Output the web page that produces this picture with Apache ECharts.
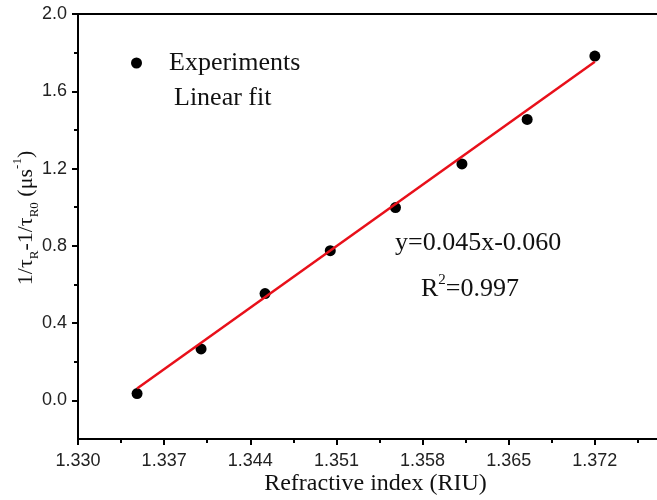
<!DOCTYPE html>
<html>
<head>
<meta charset="utf-8">
<script src="https://cdn.jsdelivr.net/npm/echarts@6/dist/echarts.min.js"></script>
<style>
  html, body { margin: 0; padding: 0; background: #fff; overflow: hidden; }
  #chart { width: 657px; height: 500px; }
</style>
</head>
<body>
<div id="chart"></div>
<script>
// refractive index (RIU) of each measurement
var riu = [1.3348, 1.3400, 1.3452, 1.3505, 1.3558, 1.3612, 1.3665, 1.3720]
// 1/tauR - 1/tauR0 (us^-1)
var rate = [0.035, 0.266, 0.553, 0.775, 0.998, 1.224, 1.454, 1.782]
// end points of the fitted line
var fitX = [1.3348, 1.3720]
var fitY = [0.061, 1.753]
var yMajor = [0, 0.4, 0.8, 1.2, 1.6, 2.0]
var yMinor = [0.2, 0.6, 1.0, 1.4, 1.8]
var eqText = 'y=0.045x-0.060'
var r2Text = '0.997'

var serif = "'Times New Roman', 'Liberation Serif', serif"
var sans = "Arial, 'Liberation Sans', sans-serif"

var chart = echarts.init(document.getElementById('chart'))

var expData = riu.map(function (x, i) { return [x, rate[i]] })
var fitData = fitX.map(function (x, i) { return [x, fitY[i]] })

chart.setOption({
  animation: false,
  // plot runs past the right edge of the picture, like the cropped original
  grid: { left: 78, top: 14, width: 603, bottom: 61, outerBoundsMode: 'none', containLabel: false },
  legend: {
    orient: 'vertical',
    left: 125,
    top: 45,
    itemWidth: 11,
    itemHeight: 11,
    itemGap: 9,
    textStyle: { fontFamily: serif, fontSize: 26, color: '#111', padding: [0, 0, 0, 22] },
    data: [
      { name: 'Experiments', icon: 'circle' },
      {
        name: 'Linear fit',
        itemStyle: { opacity: 0 },
        lineStyle: { opacity: 0 },
        textStyle: { padding: [0, 0, 0, 27] }
      }
    ]
  },
  xAxis: [{
    type: 'value',
    min: 1.330,
    max: 1.379,
    interval: 0.007,
    name: 'Refractive index (RIU)',
    nameLocation: 'middle',
    nameGap: 33,
    nameMoveOverlap: false,
    nameTextStyle: { fontFamily: serif, fontSize: 24, color: '#111', padding: [0, 8, 0, 0] },
    splitLine: { show: false },
    axisLine: { show: true, onZero: false, lineStyle: { color: '#000', width: 2 } },
    axisTick: { show: true, inside: false, length: 6, lineStyle: { color: '#000', width: 2 } },
    minorTick: { show: true, splitNumber: 2, length: 4, lineStyle: { color: '#000', width: 2 } },
    axisLabel: {
      margin: 13,
      fontFamily: sans,
      fontSize: 18,
      color: '#222',
      showMaxLabel: false,
      formatter: function (v) { return v.toFixed(3) }
    }
  }, {
    type: 'value',
    position: 'top',
    min: 1.330,
    max: 1.379,
    axisLine: { show: true, onZero: false, lineStyle: { color: '#000', width: 2 } },
    axisTick: { show: false },
    axisLabel: { show: false },
    splitLine: { show: false }
  }],
  yAxis: [{
    type: 'value',
    min: -0.2,
    max: 2.0,
    splitLine: { show: false },
    axisLine: { show: true, onZero: false, lineStyle: { color: '#000', width: 2 } },
    axisTick: { show: true, length: 6, customValues: yMajor, lineStyle: { color: '#000', width: 2 } },
    axisLabel: {
      margin: 11,
      fontFamily: sans,
      fontSize: 18,
      color: '#222',
      customValues: yMajor,
      formatter: function (v) { return v.toFixed(1) }
    }
  }, {
    type: 'value',
    position: 'left',
    min: -0.2,
    max: 2.0,
    splitLine: { show: false },
    axisLine: { show: false, onZero: false },
    axisTick: { show: true, length: 4, customValues: yMinor, lineStyle: { color: '#000', width: 2 } },
    axisLabel: { show: false }
  }],
  graphic: [{
    type: 'text',
    x: 26,
    y: 218,
    rotation: Math.PI / 2,
    style: {
      text: '1/τ{sub|R}-1/τ{sub|R0} (μs{sup|-1})',
      fontFamily: serif,
      fontSize: 22,
      lineHeight: 30,
      fill: '#111',
      align: 'center',
      verticalAlign: 'middle',
      rich: {
        sub: { fontFamily: serif, fontSize: 13, verticalAlign: 'bottom', fill: '#111' },
        sup: { fontFamily: serif, fontSize: 13, verticalAlign: 'top', fill: '#111' }
      }
    }
  }, {
    type: 'text',
    left: 395,
    top: 230,
    style: { text: eqText, fontFamily: serif, fontSize: 26, fill: '#111' }
  }, {
    type: 'text',
    left: 421,
    top: 273,
    style: {
      text: 'R{sup|2}=' + r2Text,
      fontFamily: serif,
      fontSize: 26,
      lineHeight: 32,
      fill: '#111',
      rich: {
        sup: { fontFamily: serif, fontSize: 15, verticalAlign: 'top', fill: '#111' }
      }
    }
  }],
  series: [{
    name: 'Experiments',
    type: 'scatter',
    symbol: 'circle',
    symbolSize: 11,
    itemStyle: { color: '#000', opacity: 1 },
    data: expData,
    z: 2
  }, {
    name: 'Linear fit',
    type: 'line',
    showSymbol: false,
    lineStyle: { color: '#e8101a', width: 2.5 },
    itemStyle: { color: '#e8101a' },
    data: fitData,
    z: 3
  }]
})
</script>
</body>
</html>
